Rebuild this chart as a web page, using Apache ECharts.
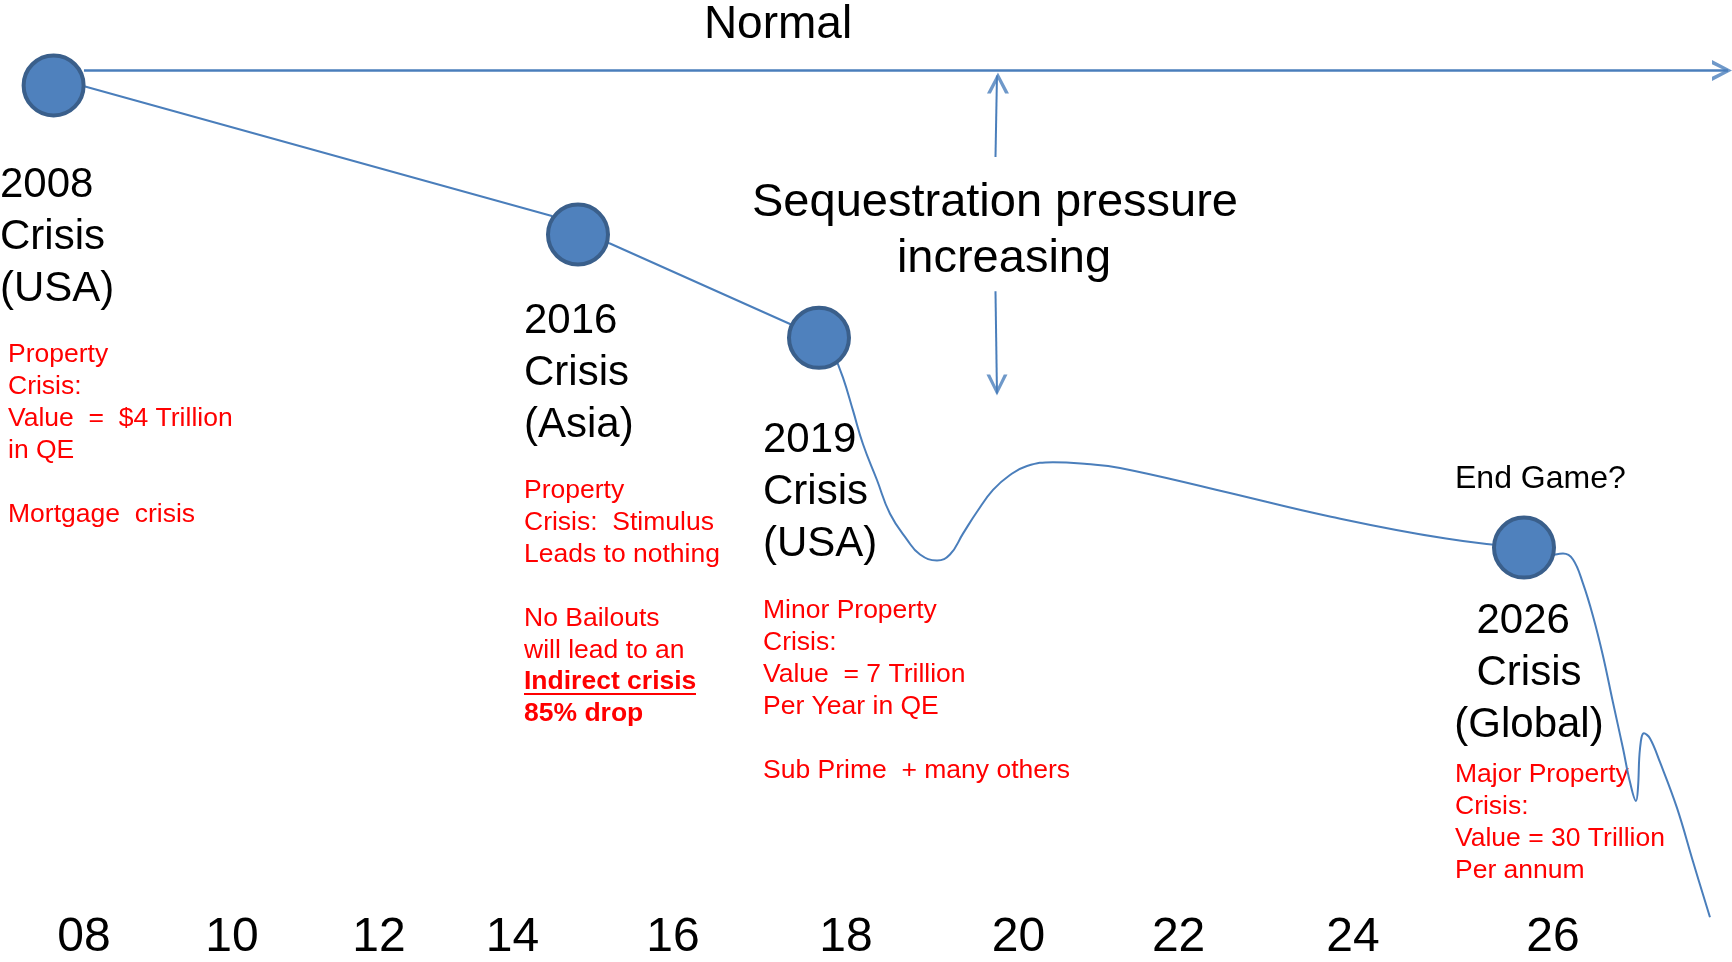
<!DOCTYPE html>
<html><head><meta charset="utf-8">
<script src="https://cdn.jsdelivr.net/npm/echarts@6/dist/echarts.min.js"></script>
<style>html,body{margin:0;padding:0;background:#fff}#c{width:1732px;height:962px}</style>
</head><body><div id="c"></div>
<script>
// ---- data (x in years on the drawn time scale, y as an abstract "level" 0-100) ----
const tickYears = [2008.018, 2009.813, 2011.595, 2013.214, 2015.160, 2017.258, 2019.349, 2021.290, 2023.405, 2025.830];
const tickLabels = ['08', '10', '12', '14', '16', '18', '20', '22', '24', '26'];

const crisisNames = ['2008', '2016', '2019', '2026'];
const crisisX = [2007.650, 2014.008, 2016.930, 2025.478];
const crisisLevel = [91.06, 75.47, 64.66, 42.72];

const normalX = [2008.018, 2027.952];
const normalLevel = [92.62, 92.62];
const normalTipX = [2028.0];
const normalTipLevel = [92.62];

const declineX = [2008.031, 2013.681, 2014.008, 2014.396, 2016.579, 2016.930];
const declineLevel = [90.96, 77.44, 75.47, 74.53, 66.11, 64.66];

const crash2019X = [2017.088, 2017.221, 2017.342, 2017.464, 2017.633, 2017.791, 2017.997, 2018.155, 2018.361, 2018.518, 2018.676, 2018.846, 2019.040, 2019.246, 2019.452, 2019.767, 2020.180, 2020.580, 2021.756, 2023.138, 2024.532, 2025.478];
const crash2019Level = [63.41, 60.50, 57.07, 53.53, 49.79, 46.26, 43.56, 42.00, 41.37, 42.00, 44.18, 46.47, 48.75, 50.31, 51.25, 51.66, 51.46, 51.04, 48.75, 45.95, 43.66, 42.72];

const crash2026X = [2025.478, 2025.769, 2025.951, 2026.072, 2026.193, 2026.315, 2026.436, 2026.557, 2026.678, 2026.763, 2026.836, 2026.860, 2026.885, 2026.933, 2027.006, 2027.127, 2027.333, 2027.527, 2027.733];
const crash2026Level = [42.72, 41.89, 42.10, 41.48, 38.98, 35.55, 31.39, 26.51, 21.73, 18.19, 16.22, 17.57, 21.73, 23.29, 22.76, 20.27, 15.49, 9.88, 4.05];

const pressureUpX = [2019.088, 2019.070];
const pressureUpLevel = [92.10, 83.58];
const pressureDownX = [2019.070, 2019.088];
const pressureDownLevel = [69.54, 58.84];
const pressureTipUp = [2019.100, 92.41];
const pressureTipDown = [2019.088, 58.63];

// ---- build ----
const zip = (xs, ys) => xs.map((x, i) => [x, ys[i]]);
const LINE = '#4A7EBB';
const FF = '"Liberation Sans", Arial, sans-serif';

const chevRight = 'path://M0,0 L20,10 L0,20 L0,16 L13,10 L0,4 Z';
const chevUp = 'path://M0,20 L10,0 L20,20 L16.5,20 L10,6.5 L3.5,20 Z';
const chevDown = 'path://M0,0 L10,20 L20,0 L16.5,0 L10,13.5 L3.5,0 Z';

function lineSeries(name, xs, ys, smooth, width) {
  return { name, type: 'line', data: zip(xs, ys), showSymbol: false, symbol: 'none',
    smooth: smooth, lineStyle: { color: LINE, width: width || 2 }, z: 2, silent: true };
}

function txt(x, y, text, size, color, align, va, lh, weight) {
  return { type: 'text', x, y, silent: true, style: {
    text, font: `${weight || 'normal'} ${size}px ${FF}`, fontSize: size, fontFamily: FF, fontWeight: weight || 'normal',
    fill: color, align: align, textAlign: align, verticalAlign: va, textVerticalAlign: va, lineHeight: lh || size } };
}

const R = 26.5;   // red annotation font size
const chart = echarts.init(document.getElementById('c'), null, { renderer: 'canvas' });
chart.setOption({
  animation: false,
  backgroundColor: '#fff',
  grid: { left: 0, right: 0, top: 0, bottom: 0 },
  xAxis: {
    type: 'value', min: 2007, max: 2028,
    axisLine: { show: false }, axisTick: { show: false }, splitLine: { show: false },
    axisLabel: {
      inside: true, margin: 18, verticalAlign: 'middle',
      customValues: tickYears,
      formatter: (v) => {
        let best = 0, d = Infinity;
        tickYears.forEach((t, i) => { if (Math.abs(t - v) < d) { d = Math.abs(t - v); best = i; } });
        return tickLabels[best];
      },
      fontSize: 48, fontFamily: FF, color: '#000'
    }
  },
  yAxis: { type: 'value', min: 0, max: 100, show: false },
  series: [
    lineSeries('normal', normalX, normalLevel, false, 2.5),
    lineSeries('decline', declineX, declineLevel, false, 2),
    lineSeries('crash2019', crash2019X, crash2019Level, 0.45, 2),
    lineSeries('crash2026', crash2026X, crash2026Level, 0.4, 2),
    lineSeries('pressureUp', pressureUpX, pressureUpLevel, false, 2),
    lineSeries('pressureDown', pressureDownX, pressureDownLevel, false, 2),
    { type: 'scatter', silent: true, z: 3, itemStyle: { color: LINE },
      data: [
        { value: [normalTipX[0], normalTipLevel[0]], symbol: chevRight, symbolSize: [20, 21], symbolOffset: [-10, 0] },
        { value: pressureTipUp, symbol: chevUp, symbolSize: [22, 21], symbolOffset: [0, 10.5] },
        { value: pressureTipDown, symbol: chevDown, symbolSize: [21, 21], symbolOffset: [0, -10.5] }
      ] },
    { name: 'crises', type: 'scatter', silent: true, z: 5, symbol: 'circle', symbolSize: 60,
      itemStyle: { color: '#4F81BD', borderColor: '#3A5F8B', borderWidth: 4, opacity: 1 },
      data: crisisX.map((x, i) => ({ name: crisisNames[i], value: [x, crisisLevel[i]] })) }
  ],
  graphic: { elements: [
    txt(778, 25, 'Normal', 46, '#000', 'center', 'middle'),
    txt(995, 203, 'Sequestration pressure', 47, '#000', 'center', 'middle'),
    txt(1004, 259, 'increasing', 47, '#000', 'center', 'middle'),
    txt(0, 159, crisisNames[0] + '\nCrisis\n(USA)', 42, '#000', 'left', 'top', 52),
    txt(524, 295, crisisNames[1] + '\nCrisis\n(Asia)', 42, '#000', 'left', 'top', 52),
    txt(763, 414, crisisNames[2] + '\nCrisis\n(USA)', 42, '#000', 'left', 'top', 52),
    txt(1529, 595, crisisNames[3] + ' \nCrisis\n(Global)', 42, '#000', 'center', 'top', 52),
    txt(1455, 479, 'End Game?', 32, '#000', 'left', 'middle'),
    txt(8, 339, 'Property\nCrisis:\nValue  =  $4 Trillion\nin QE\n\nMortgage  crisis', R, '#FF0000', 'left', 'top', 32),
    txt(524, 475, 'Property\nCrisis:  Stimulus\nLeads to nothing\n\nNo Bailouts\nwill lead to an', R, '#FF0000', 'left', 'top', 32),
    txt(524, 666, 'Indirect crisis\n85% drop', R, '#FF0000', 'left', 'top', 32, 'bold'),
    { type: 'rect', silent: true, shape: { x: 524, y: 693, width: 172, height: 2 }, style: { fill: '#FF0000' } },
    txt(763, 595, 'Minor Property\nCrisis:\nValue  = 7 Trillion\nPer Year in QE\n\nSub Prime  + many others', R, '#FF0000', 'left', 'top', 32),
    txt(1455, 759, 'Major Property\nCrisis:\nValue = 30 Trillion\nPer annum', R, '#FF0000', 'left', 'top', 32)
  ] }
});
</script>
</body></html>
